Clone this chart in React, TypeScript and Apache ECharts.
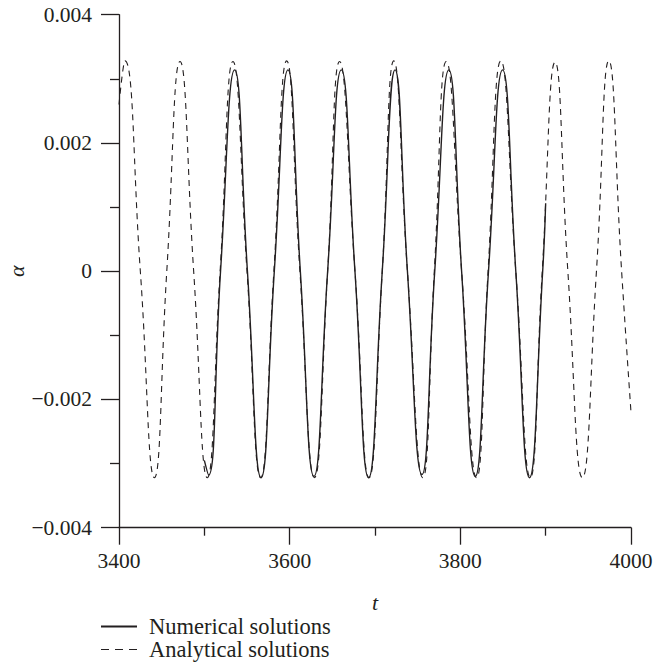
import React, { useEffect, useRef } from "react";
import * as echarts from "echarts";

const xTickLabels = [3400, 3600, 3800, 4000];
const yTickLabels = [-0.004, -0.002, 0, 0.002, 0.004];
const seriesNames = ["Numerical solutions", "Analytical solutions"];

const numericalT = [
  3500, 3505, 3519, 3535.5, 3550.5, 3566.5, 3582, 3598, 3612.5, 3628.5, 3644.5,
  3660.5, 3676.5, 3692.5, 3708.5, 3723.5, 3738, 3755, 3770, 3786.5, 3801.5,
  3817.5, 3833, 3849.5, 3865, 3881, 3896.5, 3900,
];
const numericalAlpha = [
  -0.00295, -0.00318, 0, 0.00314, 0, -0.00322, 0, 0.00314, 0, -0.0032, 0,
  0.00314, 0, -0.00322, 0, 0.00314, 0, -0.00317, 0, 0.00314, 0, -0.0032, 0,
  0.00314, 0, -0.00322, 0, 0.00106,
];

const analyticalT = [
  3400, 3407, 3425, 3441.5, 3456, 3471.5, 3487.5, 3503.5, 3518.5, 3533.5, 3550,
  3566, 3581.5, 3596.5, 3612, 3629, 3644.5, 3658.5, 3676.5, 3693, 3708.5, 3722,
  3738, 3756, 3769.5, 3783.5, 3801.5, 3819, 3832.5, 3847.5, 3865, 3882, 3896,
  3911, 3926, 3943, 3959.5, 3974, 3989, 4000,
];
const analyticalAlpha = [
  0.0026, 0.00328, 0, -0.00322, 0, 0.00327, 0, -0.00322, 0, 0.00327, 0,
  -0.00322, 0, 0.00328, 0, -0.00322, 0, 0.00327, 0, -0.00322, 0, 0.00328, 0,
  -0.00322, 0, 0.00327, 0, -0.00322, 0, 0.00328, 0, -0.00322, 0, 0.00326, 0,
  -0.00322, 0, 0.00328, 0, -0.0022,
];

const INK = "#231f20";
const FONT = "'Liberation Serif', 'DejaVu Serif', serif";

function zip(xs: number[], ys: number[]) {
  return xs.map((x, i) => [x, ys[i]]);
}

function fmtY(v: number) {
  const r = Math.round(v * 1000) / 1000;
  if (r === 0) return "0";
  const s = Math.abs(r).toFixed(3);
  return r < 0 ? "\u2212" + s : s;
}

export default function App() {
  const ref = useRef<HTMLDivElement>(null);
  useEffect(() => {
    if (!ref.current) return;
    const chart = echarts.init(ref.current, undefined, { renderer: "svg" });
    const xStep = xTickLabels[1] - xTickLabels[0];
    const yStep = yTickLabels[1] - yTickLabels[0];
    chart.setOption({
      animation: false,
      backgroundColor: "#ffffff",
      grid: {
        left: 119,
        right: 25,
        top: 14.7,
        bottom: 135.3,
        containLabel: false,
        outerBoundsMode: "none",
      },
      legend: {
        orient: "vertical",
        left: 100,
        top: 615,
        itemWidth: 36,
        itemHeight: 14,
        itemGap: 0,
        padding: 0,
        data: [
          { name: seriesNames[0] },
          { name: seriesNames[1], lineStyle: { type: [8, 6], width: 1.2 } },
        ],
        itemStyle: { opacity: 0 },
        textStyle: {
          fontFamily: FONT,
          fontSize: 22.5,
          color: INK,
          padding: [0, 0, 0, 7],
        },
      },
      xAxis: {
        type: "value",
        min: xTickLabels[0],
        max: xTickLabels[xTickLabels.length - 1],
        interval: xStep,
        name: "t",
        nameLocation: "middle",
        nameGap: 64,
        nameMoveOverlap: false,
        nameTextStyle: {
          fontFamily: FONT,
          fontStyle: "italic",
          fontSize: 22,
          color: INK,
        },
        axisLine: { onZero: false, lineStyle: { color: INK, width: 1.3 } },
        axisTick: { inside: false, length: 17, lineStyle: { color: INK, width: 1.3 } },
        minorTick: { show: true, splitNumber: 2, length: 8, lineStyle: { color: INK, width: 1.3 } },
        splitLine: { show: false },
        minorSplitLine: { show: false },
        axisLabel: {
          margin: 22,
          fontFamily: FONT,
          fontSize: 21.5,
          color: INK,
          formatter: (v: number) => String(Math.round(v)),
        },
      },
      yAxis: {
        type: "value",
        min: yTickLabels[0],
        max: yTickLabels[yTickLabels.length - 1],
        interval: yStep,
        name: "α",
        nameLocation: "middle",
        nameRotate: 90,
        nameGap: 95,
        nameMoveOverlap: false,
        nameTextStyle: {
          fontFamily: FONT,
          fontStyle: "italic",
          fontSize: 22,
          lineHeight: 16,
          color: INK,
        },
        axisLine: { onZero: false, lineStyle: { color: INK, width: 1.3 } },
        axisTick: { inside: false, length: 18, lineStyle: { color: INK, width: 1.3 } },
        minorTick: { show: true, splitNumber: 2, length: 9, lineStyle: { color: INK, width: 1.3 } },
        splitLine: { show: false },
        minorSplitLine: { show: false },
        axisLabel: {
          margin: 27,
          fontFamily: FONT,
          fontSize: 21.5,
          color: INK,
          formatter: (v: number) => fmtY(v),
        },
      },
      series: [
        {
          name: seriesNames[1],
          type: "line",
          data: zip(analyticalT, analyticalAlpha),
          smooth: 0.5,
          symbol: "none",
          lineStyle: { color: INK, width: 1.1, type: [6, 5] },
          itemStyle: { color: INK },
          z: 2,
        },
        {
          name: seriesNames[0],
          type: "line",
          data: zip(numericalT, numericalAlpha),
          smooth: 0.5,
          symbol: "none",
          lineStyle: { color: INK, width: 1.4, type: "solid" },
          itemStyle: { color: INK },
          z: 3,
        },
      ],
    });
    return () => chart.dispose();
  }, []);
  return (
    <div
      ref={ref}
      style={{ position: "fixed", left: 0, top: 0, width: 656, height: 663 }}
    />
  );
}
